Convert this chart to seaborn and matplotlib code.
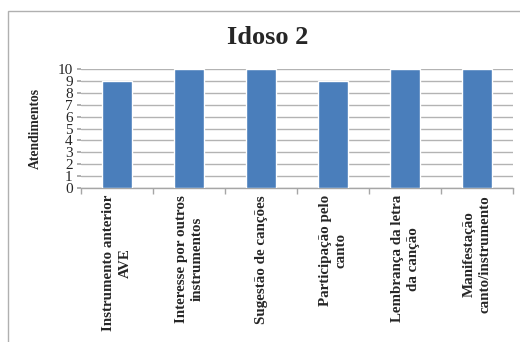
import matplotlib
matplotlib.use("Agg")
import matplotlib.pyplot as plt
import seaborn as sns
import pandas as pd
from matplotlib.patches import Rectangle

categories = ["Instrumento anterior\nAVE", "Interesse por outros\ninstrumentos",
              "Sugestão de canções", "Participação pelo\ncanto",
              "Lembrança da letra\nda canção", "Manifestação\ncanto/instrumento"]
values = [9, 10, 10, 9, 10, 10]
yticks = list(range(0, 11))
title = "Idoso 2"
ylabel = "Atendimentos"

sns.set_theme(style="white")
plt.rcParams['font.family'] = ['Liberation Serif', 'DejaVu Serif']

fig = plt.figure(figsize=(5.2, 3.42), dpi=100)
fig.patches.append(Rectangle((8/520, -0.05), 1.2, 1 - 11/342 + 0.05, transform=fig.transFigure,
                             fill=False, edgecolor="#b0b0b0", linewidth=1.0, zorder=0))
ax = fig.add_axes([81/520, 1 - 188/342, (513 - 81)/520, (188 - 69)/342])

df = pd.DataFrame({"cat": categories, "val": values})
sns.barplot(data=df, x="cat", y="val", color="#4A7EBB", saturation=1, width=0.42, ax=ax, zorder=3)

ax.set_xlim(-0.5, len(categories) - 0.5)
ax.set_ylim(0, 10)
ax.set_yticks(yticks)
ax.set_yticklabels([str(t) for t in yticks], fontsize=11)
ax.yaxis.grid(True, color="#b3b3b3", linewidth=1.0, zorder=0)
ax.set_axisbelow(True)
for s in ["top", "right", "left"]:
    ax.spines[s].set_visible(False)
ax.spines["bottom"].set_color("#a6a6a6")
ax.spines["bottom"].set_linewidth(1.0)
ax.tick_params(axis="y", length=3, color="#a6a6a6", pad=3, left=True)
ax.set_xticks(range(len(categories)))
ax.set_xticklabels(categories, rotation=90, fontsize=10.8, fontweight="bold",
                   multialignment="center", linespacing=1.3)
ax.tick_params(axis="x", which="major", length=0, pad=5)
ax.set_xticks([i - 0.5 for i in range(len(categories) + 1)], minor=True)
ax.tick_params(axis="x", which="minor", length=4, color="#a6a6a6", bottom=True)
ax.set_xlabel("")
ax.set_ylabel(ylabel, fontsize=9.8, fontweight="bold", labelpad=11)
fig.text(268/520, 1 - 38/342, title, fontsize=19, fontweight="bold", ha="center", va="center")

fig.savefig("out.png", dpi=100)
